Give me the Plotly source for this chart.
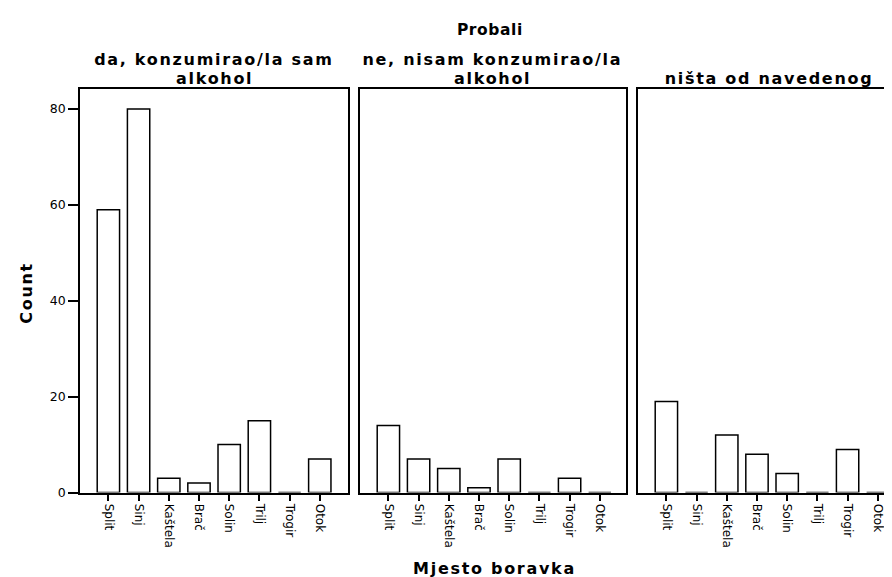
import plotly.graph_objects as go

# ---- data ----
categories = ["Split", "Sinj", "Kaštela", "Brač", "Solin", "Trilj", "Trogir", "Otok"]
panel_titles = [["da, konzumirao/la sam", "alkohol"],
                ["ne, nisam konzumirao/la", "alkohol"],
                ["ništa od navedenog"]]
da_counts = [59, 80, 3, 2, 10, 15, 0, 7]
ne_counts = [14, 7, 5, 1, 7, 0, 3, 0]
nista_counts = [19, 0, 12, 8, 4, 0, 9, 0]
y_ticks = [0, 20, 40, 60, 80]

W, H = 892, 577
TITLE_FONT = "DejaVu Sans"
TICK_FONT = "DejaVu Sans"


def px_x(x):
    return x / W


def px_y(y):
    return 1 - y / H


fig = go.Figure()

series = [da_counts, ne_counts, nista_counts]
x_domains = [(72, 340), (352, 618), (630, 892)]
spacing = 30.2
ymax = 84.17

for i, (vals, (x0, x1)) in enumerate(zip(series, x_domains)):
    suffix = "" if i == 0 else str(i + 1)
    fig.add_trace(go.Bar(
        x=categories, y=vals,
        xaxis="x" + suffix, yaxis="y" + suffix,
        width=0.74,
        marker=dict(color="white", line=dict(color="black", width=1.5)),
        showlegend=False,
        hoverinfo="x+y",
    ))
    span = (x1 - x0) / spacing
    fig.layout["xaxis" + suffix] = dict(
        domain=[px_x(x0), px_x(x1)],
        anchor="y" + suffix,
        type="category",
        categoryorder="array", categoryarray=categories,
        range=[-0.94, -0.94 + span],
        showline=True, linecolor="black", linewidth=1.5,
        mirror=True,
        ticks="outside", ticklen=7, tickwidth=1.5, tickcolor="black",
        tickangle=90,
        tickfont=dict(family=TICK_FONT, size=12, color="black"),
        showgrid=False, zeroline=False, fixedrange=True,
    )
    fig.layout["yaxis" + suffix] = dict(
        domain=[px_y(490.5), px_y(82)],
        anchor="x" + suffix,
        range=[0, ymax],
        tickvals=y_ticks,
        showticklabels=(i == 0),
        ticks="outside" if i == 0 else "",
        ticklen=10, tickwidth=1.5, tickcolor="black",
        tickfont=dict(family=TICK_FONT, size=12.5, color="black"),
        showline=True, linecolor="black", linewidth=1.5,
        mirror=(i < 2),
        showgrid=False, zeroline=False, fixedrange=True,
    )

annotations = []
# panel titles
for (x0, x1), lines in zip(x_domains, panel_titles):
    cx = (x0 + x1) / 2
    ys = [52, 71] if len(lines) == 2 else [71]
    for txt, yy in zip(lines, ys):
        annotations.append(dict(
            text=txt, x=px_x(cx), y=px_y(yy), xref="paper", yref="paper",
            xanchor="center", yanchor="middle", showarrow=False,
            font=dict(family=TITLE_FONT, size=16, color="black", weight="bold"),
        ))

annotations.append(dict(
    text="Probali", x=px_x(482), y=px_y(22), xref="paper", yref="paper",
    xanchor="center", yanchor="middle", showarrow=False,
    font=dict(family=TITLE_FONT, size=15.5, color="black", weight="bold"),
))
annotations.append(dict(
    text="Mjesto boravka", x=px_x(486), y=px_y(567), xref="paper", yref="paper",
    xanchor="center", yanchor="middle", showarrow=False,
    font=dict(family=TITLE_FONT, size=16, color="black", weight="bold"),
))
annotations.append(dict(
    text="Count", x=px_x(19), y=px_y(288), xref="paper", yref="paper",
    xanchor="center", yanchor="middle", showarrow=False, textangle=-90,
    font=dict(family=TITLE_FONT, size=16, color="black", weight="bold"),
))

fig.update_layout(
    width=W, height=H,
    margin=dict(l=0, r=0, t=0, b=0),
    paper_bgcolor="white", plot_bgcolor="white",
    annotations=annotations,
)

# widen letter spacing of the bold titles (the reference uses spaced lettering)
post_js = """
var gd = document.getElementById('{plot_id}');
function spaceTitles() {
  gd.querySelectorAll('.annotation-text').forEach(function (t) {
    t.style.letterSpacing = (t.textContent === 'Probali') ? '0.6px' : '1.7px';
  });
}
spaceTitles();
setTimeout(spaceTitles, 30);
setTimeout(spaceTitles, 300);
if (gd.on) { gd.on('plotly_afterplot', spaceTitles); }
"""

fig.write_html("out.html", post_script=post_js)
